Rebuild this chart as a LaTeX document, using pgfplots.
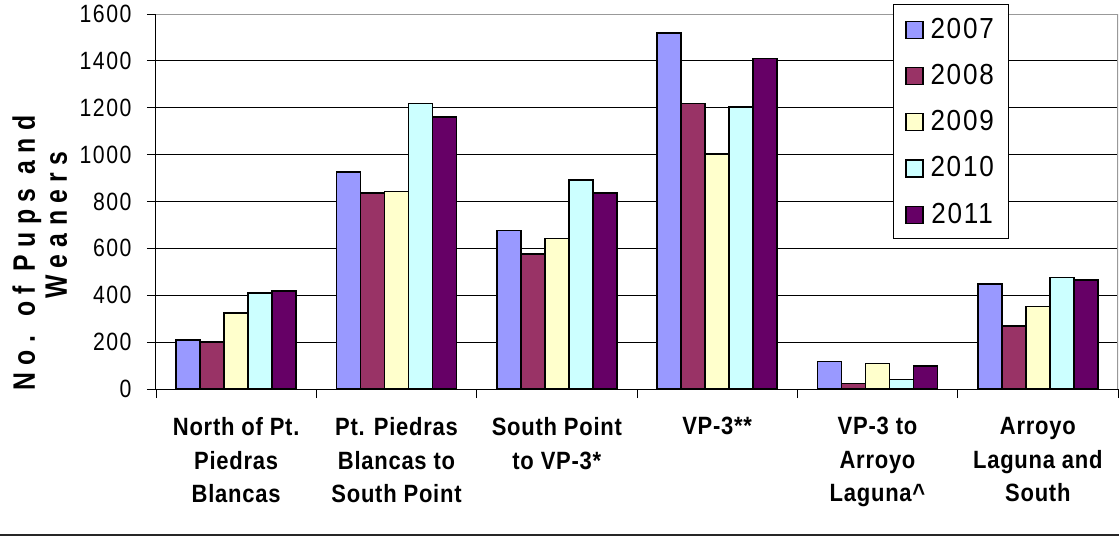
\documentclass[border=0pt]{standalone}
\usepackage{fontspec}
\setmainfont{Liberation Sans}
\newfontfamily\tickfont[FakeStretch=0.85,LetterSpace=6]{Liberation Sans}
\newfontfamily\catfont[FakeStretch=0.88,LetterSpace=3]{Liberation Sans}
\newfontfamily\ylabfont[FakeStretch=0.8,LetterSpace=24]{Liberation Sans}
\newfontfamily\legfont[FakeStretch=0.9,LetterSpace=6]{Liberation Sans}
\usepackage{pgfplots}
\pgfplotsset{compat=1.18}
\definecolor{c07}{HTML}{9999FF}
\definecolor{c08}{HTML}{993366}
\definecolor{c09}{HTML}{FFFFCC}
\definecolor{c10}{HTML}{CCFFFF}
\definecolor{c11}{HTML}{660066}
\pgfplotsset{sqlegend/.style={legend image code/.code={\draw[##1, line width=1.2pt] (0pt,-9.5pt) rectangle (17pt,7.5pt);}}}
\begin{document}
\begin{tikzpicture}
\path[use as bounding box] (-156pt,-150pt) rectangle (963pt,389pt);
\begin{axis}[
  at={(0pt,0pt)}, anchor=south west,
  scale only axis, width=962pt, height=375pt,
  ybar=0pt, bar width=24pt,
  xmin=-0.5, xmax=5.5, ymin=0, ymax=1600,
  ytick={0,200,...,1600},
  xtick={0,...,5},
  xticklabels={{North of Pt.\\Piedras\\Blancas},{Pt. Piedras\\Blancas to\\South Point},{South Point\\to VP-3*},{VP-3**},{VP-3 to\\Arroyo\\Laguna\textasciicircum},{Arroyo\\Laguna and\\South}},
  axis x line*=bottom, axis y line*=left,
  axis line style={black, line width=1pt, -},
  ymajorgrids, grid style={black, line width=0.8pt},
  tick align=outside, major tick length=9pt,
  tick style={black, line width=0.8pt},
  xtick style={draw=none},
  extra x ticks={-0.5,0.5,1.5,2.5,3.5,4.5,5.5},
  extra x tick labels={},
  extra x tick style={xtick style={draw=black}},
  yticklabel style={font=\tickfont\fontsize{25}{28}\selectfont, xshift=-12pt, /pgf/number format/1000 sep={}, /pgf/number format/assume math mode=true},
  xticklabel style={font=\catfont\bfseries\fontsize{25}{33.5}\selectfont, align=center, yshift=-16pt},
  legend style={at={(rel axis cs:0.766,1.0267)}, anchor=north west, draw=black, line width=0.8pt, fill=white,
    font=\legfont\fontsize{29}{32}\selectfont, row sep=18.5pt, column sep=4pt, inner xsep=12pt, inner ysep=10.5pt, nodes={inner sep=3pt}},
]
\addplot[fill=c07, draw=black, line width=1.5pt, sqlegend] coordinates {(0,209) (1,926) (2,676) (3,1519) (4,117) (5,449)};
\addplot[fill=c08, draw=black, line width=1.5pt, sqlegend] coordinates {(0,200) (1,837) (2,575) (3,1218) (4,24) (5,269)};
\addplot[fill=c09, draw=black, line width=1.5pt, sqlegend] coordinates {(0,325) (1,843) (2,642) (3,1002) (4,108) (5,352)};
\addplot[fill=c10, draw=black, line width=1.5pt, sqlegend] coordinates {(0,409) (1,1218) (2,891) (3,1203) (4,41) (5,476)};
\addplot[fill=c11, draw=black, line width=1.5pt, sqlegend] coordinates {(0,418) (1,1161) (2,837) (3,1411) (4,99) (5,466)};
\legend{2007,2008,2009,2010,2011}
\draw[gray!80, line width=1.2pt] (rel axis cs:0,1) -- (rel axis cs:1,1) -- (rel axis cs:1,0);
\end{axis}
\node[rotate=90, anchor=base, font=\ylabfont\bfseries\fontsize{31}{36}\selectfont] at (-121pt,136pt) {No. of Pups and};
\node[rotate=90, anchor=base, font=\ylabfont\bfseries\fontsize{31}{36}\selectfont] at (-89pt,164pt) {Weaners};
\draw[black!85, line width=1.5pt] (-156pt,-146pt) -- (963pt,-146pt);
\end{tikzpicture}
\end{document}
